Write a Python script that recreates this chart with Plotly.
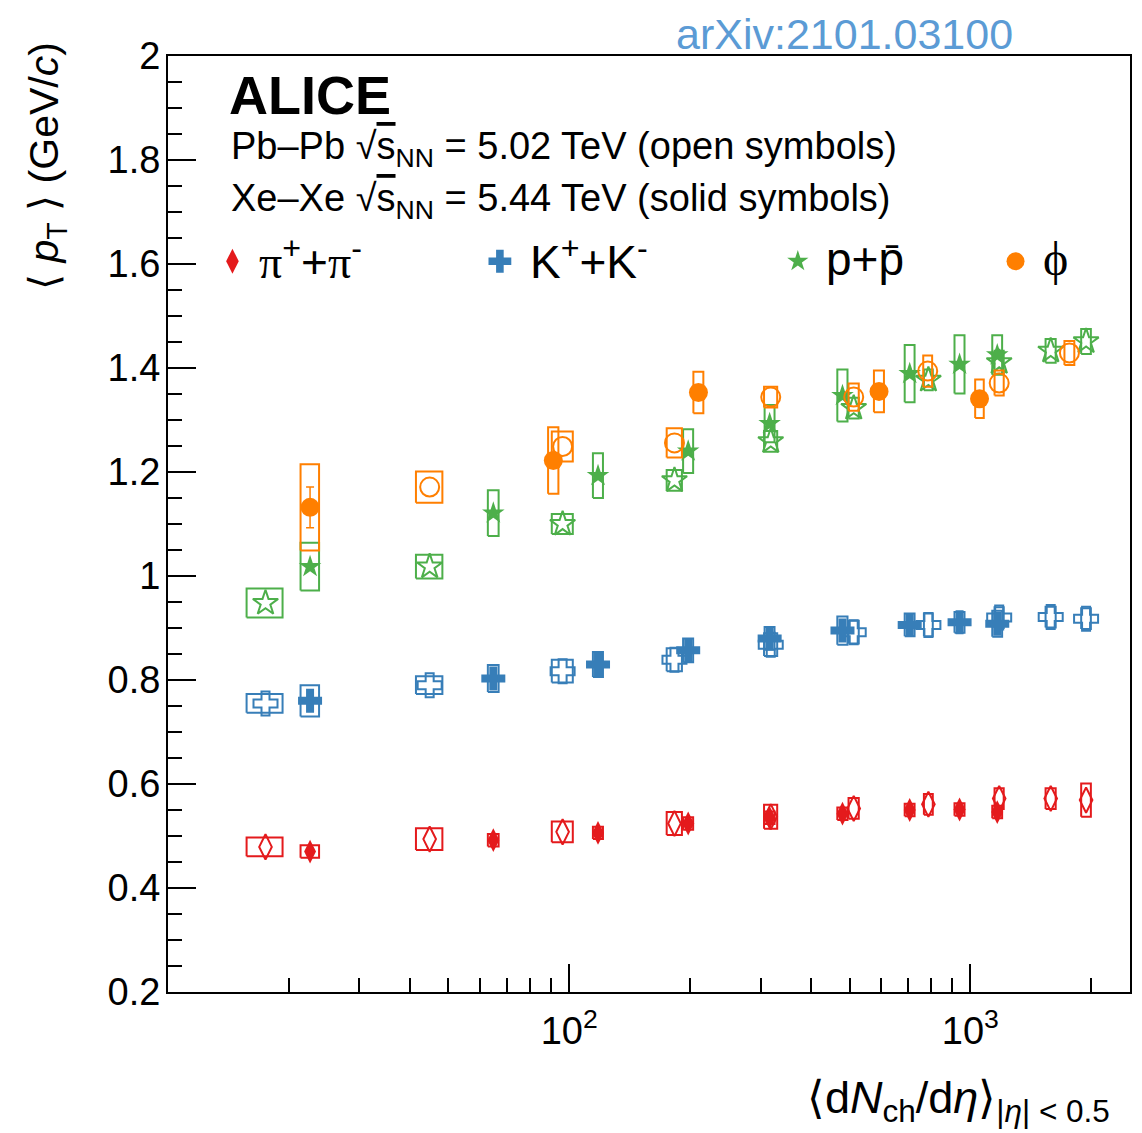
import plotly.graph_objects as go

# ---------------- data ----------------
# multiplicity classes, <dNch/deta> and its uncertainty (box half-width)
dndeta_pbpb = [17.5, 44.9, 96.3, 183, 318, 512, 786, 1180, 1586, 1943]
dndeta_pbpb_err = [1.8, 3.4, 5.8, 8, 12, 15, 20, 31, 46, 54]
dndeta_xexe = [22.6, 64.7, 118, 198, 316, 480, 706, 940, 1167]
dndeta_xexe_err = [1.2, 2.0, 3.4, 5.7, 9, 14, 20, 27, 33]
dndeta_phi_pbpb = [44.9, 96.3, 183, 318, 512, 783, 1180, 1766]
dndeta_phi_pbpb_err = [3.4, 5.8, 8, 12, 15, 20, 31, 50]
dndeta_phi_xexe = [22.6, 91.3, 210, 592, 1054]
dndeta_phi_xexe_err = [1.2, 2.7, 6, 17, 26]

# <pT> values and systematic uncertainties
pi_pbpb = [0.479, 0.494, 0.508, 0.524, 0.537, 0.553, 0.561, 0.572, 0.572, 0.569]
pi_pbpb_sys = [0.018, 0.021, 0.020, 0.022, 0.023, 0.020, 0.020, 0.020, 0.020, 0.032]
pi_xexe = [0.470, 0.492, 0.506, 0.524, 0.535, 0.543, 0.550, 0.551, 0.546]
pi_xexe_sys = [0.012, 0.012, 0.012, 0.012, 0.012, 0.012, 0.012, 0.012, 0.012]

k_pbpb = [0.755, 0.790, 0.817, 0.839, 0.868, 0.892, 0.906, 0.920, 0.921, 0.918]
k_pbpb_sys = [0.018, 0.017, 0.022, 0.022, 0.022, 0.022, 0.022, 0.020, 0.020, 0.020]
k_xexe = [0.760, 0.803, 0.830, 0.857, 0.880, 0.895, 0.906, 0.911, 0.908]
k_xexe_sys = [0.030, 0.026, 0.024, 0.023, 0.022, 0.027, 0.022, 0.020, 0.025]

p_pbpb = [0.948, 1.018, 1.100, 1.184, 1.259, 1.323, 1.377, 1.411, 1.433, 1.451]
p_pbpb_sys = [0.028, 0.023, 0.019, 0.020, 0.020, 0.020, 0.020, 0.022, 0.023, 0.024]
p_xexe = [1.018, 1.121, 1.193, 1.240, 1.293, 1.347, 1.389, 1.407, 1.425]
p_xexe_sys = [0.046, 0.044, 0.043, 0.042, 0.036, 0.050, 0.055, 0.056, 0.038]

phi_pbpb = [1.171, 1.249, 1.256, 1.344, 1.344, 1.394, 1.371, 1.429]
phi_pbpb_sys = [0.030, 0.029, 0.028, 0.020, 0.026, 0.030, 0.024, 0.023]
phi_xexe = [1.132, 1.222, 1.353, 1.355, 1.341]
phi_xexe_sys = [0.083, 0.064, 0.040, 0.040, 0.037]
phi_xexe_stat = [0.039, 0.012, 0.010, 0.008, 0.008]

y_tickvals = [0.2, 0.4, 0.6, 0.8, 1.0, 1.2, 1.4, 1.6, 1.8, 2.0]
y_ticktext = ["0.2", "0.4", "0.6", "0.8", "1", "1.2", "1.4", "1.6", "1.8", "2"]
x_tickvals = [100, 1000]
x_ticktext = ["10<sup>2</sup>", "10<sup>3</sup>"]
x_minor = [20, 30, 40, 50, 60, 70, 80, 90, 200, 300, 400, 500, 600, 700, 800, 900, 2000]

# ---------------- styles ----------------
RED = "#e41a1c"
BLUE = "#377eb8"
GREEN = "#4daf4a"
ORANGE = "#ff7f00"
FONT = "Liberation Sans"

fig = go.Figure()


def boxes(x, dx, y, dy, color):
    xs, ys = [], []
    for xi, dxi, yi, dyi in zip(x, dx, y, dy):
        xs += [xi - dxi, xi + dxi, xi + dxi, xi - dxi, xi - dxi, None]
        ys += [yi - dyi, yi - dyi, yi + dyi, yi + dyi, yi - dyi, None]
    fig.add_trace(go.Scatter(x=xs, y=ys, mode="lines", line=dict(color=color, width=2),
                             hoverinfo="skip", showlegend=False))


def points(x, y, symbol, size, color, open_, err=None):
    m = dict(symbol=symbol, size=size, color=color, opacity=1,
             line=dict(color=color, width=2 if open_ else 0))
    kw = {}
    if err is not None:
        kw["error_y"] = dict(type="data", array=err, visible=True, color=color,
                             thickness=1.5, width=4)
    fig.add_trace(go.Scatter(x=x, y=y, mode="markers", marker=m, showlegend=False, **kw))


# pions
boxes(dndeta_pbpb, dndeta_pbpb_err, pi_pbpb, pi_pbpb_sys, RED)
points(dndeta_pbpb, pi_pbpb, "diamond-tall-open", 18, RED, True)
boxes(dndeta_xexe, dndeta_xexe_err, pi_xexe, pi_xexe_sys, RED)
points(dndeta_xexe, pi_xexe, "diamond-tall", 17, RED, False)
# kaons
boxes(dndeta_pbpb, dndeta_pbpb_err, k_pbpb, k_pbpb_sys, BLUE)
points(dndeta_pbpb, k_pbpb, "cross-open", 20, BLUE, True)
boxes(dndeta_xexe, dndeta_xexe_err, k_xexe, k_xexe_sys, BLUE)
points(dndeta_xexe, k_xexe, "cross", 20, BLUE, False)
# protons
boxes(dndeta_pbpb, dndeta_pbpb_err, p_pbpb, p_pbpb_sys, GREEN)
points(dndeta_pbpb, p_pbpb, "star-open", 19, GREEN, True)
boxes(dndeta_xexe, dndeta_xexe_err, p_xexe, p_xexe_sys, GREEN)
points(dndeta_xexe, p_xexe, "star", 17, GREEN, False)
# phi
boxes(dndeta_phi_pbpb, dndeta_phi_pbpb_err, phi_pbpb, phi_pbpb_sys, ORANGE)
points(dndeta_phi_pbpb, phi_pbpb, "circle-open", 19, ORANGE, True)
boxes(dndeta_phi_xexe, dndeta_phi_xexe_err, phi_xexe, phi_xexe_sys, ORANGE)
points(dndeta_phi_xexe, phi_xexe, "circle", 19, ORANGE, False, err=phi_xexe_stat)

# legend symbols on an overlay axis spanning the plot area (fractions)
leg_x = [0.067, 0.345, 0.6547, 0.881]
leg_y = [0.7807, 0.7807, 0.7807, 0.7807]
leg_sym = ["diamond-tall", "cross", "star", "circle"]
leg_size = [18, 19, 16, 18]
leg_col = [RED, BLUE, GREEN, ORANGE]
fig.add_trace(go.Scatter(x=leg_x, y=leg_y, mode="markers", xaxis="x2", yaxis="y2",
                         marker=dict(symbol=leg_sym, size=leg_size, color=leg_col,
                                     opacity=1, line=dict(width=0)),
                         showlegend=False, hoverinfo="skip"))

axis_common = dict(showline=True, linecolor="black", linewidth=2, mirror=True,
                   showgrid=False, zeroline=False, ticks="inside", tickcolor="black",
                   tickwidth=1.5, ticklen=28,
                   tickfont=dict(family=FONT, size=38, color="black"))

# the page body has an 8 px margin: the figure is sized so that it fills the window
fig.update_layout(
    width=1134, height=1125,
    margin=dict(l=159.5, r=11.5, t=47.7, b=141.3, autoexpand=False),
    paper_bgcolor="white", plot_bgcolor="white",
    showlegend=False,
    xaxis=dict(type="log", range=[1.0, 3.39794], tickmode="array",
               tickvals=x_tickvals, ticktext=x_ticktext, ticklabelstandoff=4,
               minor=dict(ticks="inside", ticklen=14, tickwidth=1.5, tickcolor="black",
                          tickmode="array", tickvals=x_minor),
               **axis_common),
    yaxis=dict(range=[0.2, 2.0], tickmode="array", tickvals=y_tickvals,
               ticktext=y_ticktext, ticklabelstandoff=-2,
               minor=dict(ticks="inside", ticklen=14, tickwidth=1.5, tickcolor="black",
                          dtick=0.05, tick0=0.2),
               **axis_common),
    xaxis2=dict(overlaying="x", range=[0, 1], visible=False, anchor="y2"),
    yaxis2=dict(overlaying="y", range=[0, 1], visible=False, anchor="x2"),
)


def add_text(text, x, y, size, xanchor="left", yanchor="middle", color="black",
             family=FONT, angle=0):
    fig.add_annotation(text=text, x=x, y=y, xref="paper", yref="paper", showarrow=False,
                       xanchor=xanchor, yanchor=yanchor, textangle=angle,
                       font=dict(family=family, size=size, color=color))


add_text("<b>ALICE</b>", 0.0615, 0.958, 54)
add_text("Pb–Pb √<span style='text-decoration:overline'>s</span><sub>NN</sub> = 5.02 TeV (open symbols)",
         0.0639, 0.9005, 38)
add_text("Xe–Xe √<span style='text-decoration:overline'>s</span><sub>NN</sub> = 5.44 TeV (solid symbols)",
         0.0639, 0.8450, 38)
SERIF = "<span style='font-family:Liberation Serif'>"
add_text(SERIF + "π</span><sup>+</sup>+" + SERIF + "π</span><sup>-</sup>", 0.092, 0.7836, 46)
add_text("K<sup>+</sup>+K<sup>-</sup>", 0.374, 0.7836, 46)
add_text("p+p̄", 0.6819, 0.7836, 46)
add_text(SERIF + "ϕ</span>", 0.908, 0.7836, 48)

add_text("⟨ <i>p</i><sub>T</sub> ⟩ (GeV/<i>c</i>)", -0.1251, 1.0168, 41,
         xanchor="center", yanchor="top", angle=-90)
add_text("⟨d<i>N</i><sub>ch</sub>/d<i>η</i>⟩<sub>|<i>η</i>| < 0.5</sub>", 0.9808, -0.1157, 45,
         xanchor="right", yanchor="middle")
add_text("arXiv:2101.03100", 0.7035, 1.0234, 43, xanchor="center", color="#5b9bd5",
         family="Liberation Sans")

fig.write_html("out.html")
